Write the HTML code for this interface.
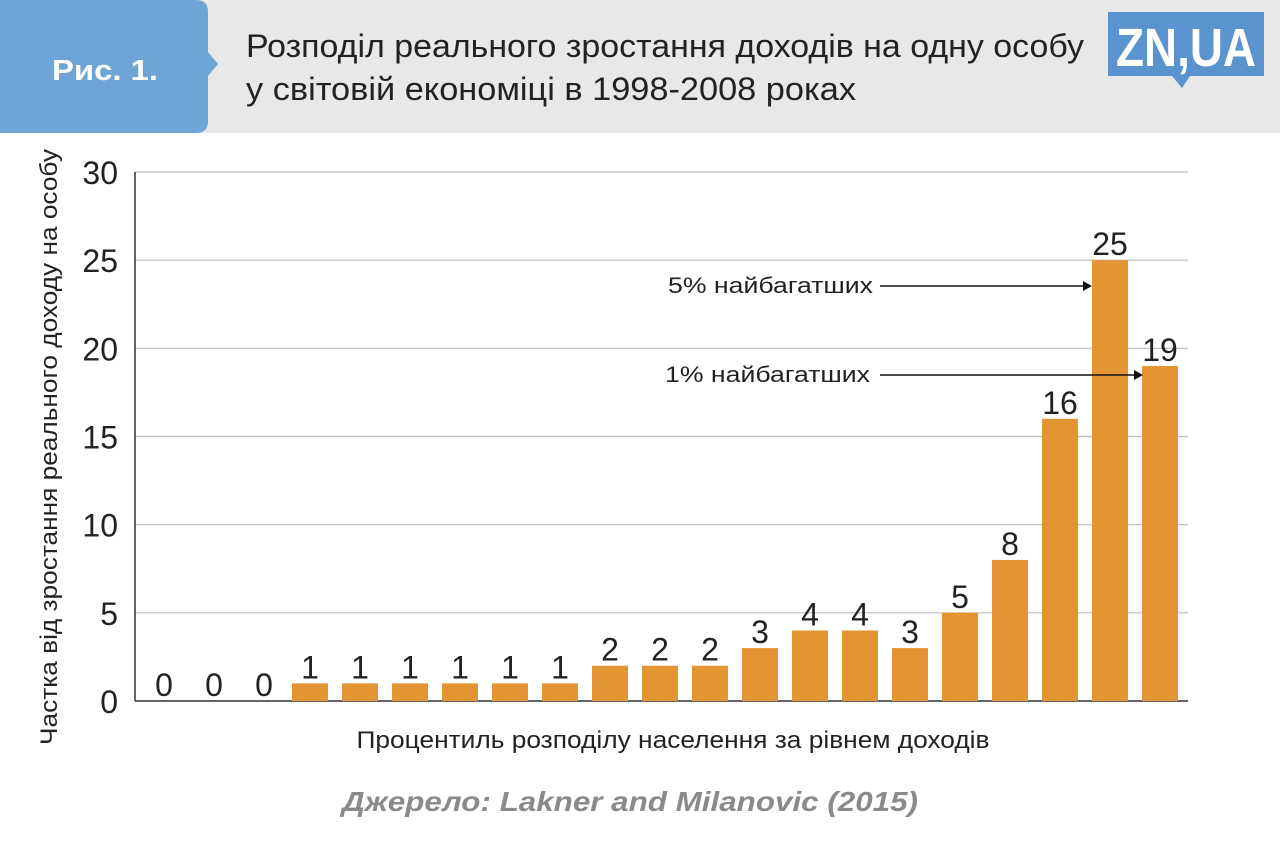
<!DOCTYPE html>
<html><head><meta charset="utf-8"><style>
body{margin:0;width:1280px;height:838px;background:#fff;overflow:hidden;font-family:"Liberation Sans",sans-serif}
</style></head><body>
<svg width="1280" height="838" xmlns="http://www.w3.org/2000/svg">
<rect x="0" y="0" width="1280" height="133" fill="#e8e8e8"/>
<path d="M0,0 H196 Q208,0 208,12 V52 L218,64 L208,76 V121 Q208,133 196,133 H0 Z" fill="#6fa5d6"/>
<text x="52" y="80" font-size="29" font-weight="bold" fill="#fff" textLength="106" lengthAdjust="spacingAndGlyphs">Рис. 1.</text>
<text x="246" y="57" font-size="32" fill="#222" textLength="838" lengthAdjust="spacingAndGlyphs">Розподіл реального зростання доходів на одну особу</text>
<text x="246" y="100" font-size="32" fill="#222" textLength="610" lengthAdjust="spacingAndGlyphs">у світовій економіці в 1998-2008 роках</text>
<g>
<rect x="1108" y="12" width="156" height="64" fill="#5b93cf"/>
<path d="M1172,76 L1182,88 L1190,76 Z" fill="#5b93cf"/>
<text x="1186" y="66" text-anchor="middle" font-size="54" font-weight="bold" fill="#fff" textLength="140" lengthAdjust="spacingAndGlyphs">ZN,UA</text>
</g>
<g id="grid"></g>
<g id="bars"></g>
<line x1="135" y1="172" x2="135" y2="701" stroke="#333" stroke-width="1.5"/>
<text transform="translate(57,447) rotate(-90)" text-anchor="middle" font-size="24" fill="#222" textLength="596" lengthAdjust="spacingAndGlyphs">Частка від зростання реального доходу на особу</text>
<text x="673" y="748" text-anchor="middle" font-size="24" fill="#222" textLength="633" lengthAdjust="spacingAndGlyphs">Процентиль розподілу населення за рівнем доходів</text>
<g>
<text x="873" y="293" text-anchor="end" font-size="22" fill="#222" textLength="205" lengthAdjust="spacingAndGlyphs">5% найбагатших</text>
<line x1="880" y1="286" x2="1086" y2="286" stroke="#111" stroke-width="1.5"/>
<path d="M1092,286 L1083,281 L1083,291 Z" fill="#111"/>
</g>
<g>
<text x="870" y="382" text-anchor="end" font-size="22" fill="#222" textLength="205" lengthAdjust="spacingAndGlyphs">1% найбагатших</text>
<line x1="880" y1="375" x2="1137" y2="375" stroke="#111" stroke-width="1.5"/>
<path d="M1143,375 L1134,370 L1134,380 Z" fill="#111"/>
</g>
<text x="630" y="811" text-anchor="middle" font-size="28" font-weight="bold" font-style="italic" fill="#8a8a8a" textLength="576" lengthAdjust="spacingAndGlyphs">Джерело: Lakner and Milanovic (2015)</text>
</svg>
<script>
const values=[0,0,0,1,1,1,1,1,1,2,2,2,3,4,4,3,5,8,16,25,19];
const yTicks=[0,5,10,15,20,25,30];
const NS="http://www.w3.org/2000/svg";
const y=v=>701-v*(529/30);
const xc=i=>160+50*i;
const grid=document.getElementById('grid');
yTicks.forEach(t=>{
 const l=document.createElementNS(NS,'line');
 l.setAttribute('x1',135);l.setAttribute('x2',1188);l.setAttribute('y1',y(t));l.setAttribute('y2',y(t));
 l.setAttribute('stroke',t===0?'#333':'#bbb');l.setAttribute('stroke-width',t===0?1.5:1.2);
 
 
 grid.appendChild(l);
 const tx=document.createElementNS(NS,'text');
 tx.setAttribute('x',118);tx.setAttribute('y',y(t)+12);tx.setAttribute('text-anchor','end');
 tx.setAttribute('font-size','32');tx.setAttribute('fill','#222');tx.textContent=t;
 
 
 grid.appendChild(tx);
});
const bars=document.getElementById('bars');
values.forEach((v,i)=>{
 const r=document.createElementNS(NS,'rect');
 r.setAttribute('x',xc(i)-18);r.setAttribute('width',36);
 r.setAttribute('y',y(v));r.setAttribute('height',701-y(v));r.setAttribute('fill','#e39433');
 
 
 bars.appendChild(r);
 const tx=document.createElementNS(NS,'text');
 tx.setAttribute('x',xc(i)+(v===0?4:0));tx.setAttribute('y',y(v)-5);tx.setAttribute('text-anchor','middle');
 tx.setAttribute('font-size','32');tx.setAttribute('fill','#222');tx.textContent=v;
 
 
 bars.appendChild(tx);
});
</script>
</body></html>
